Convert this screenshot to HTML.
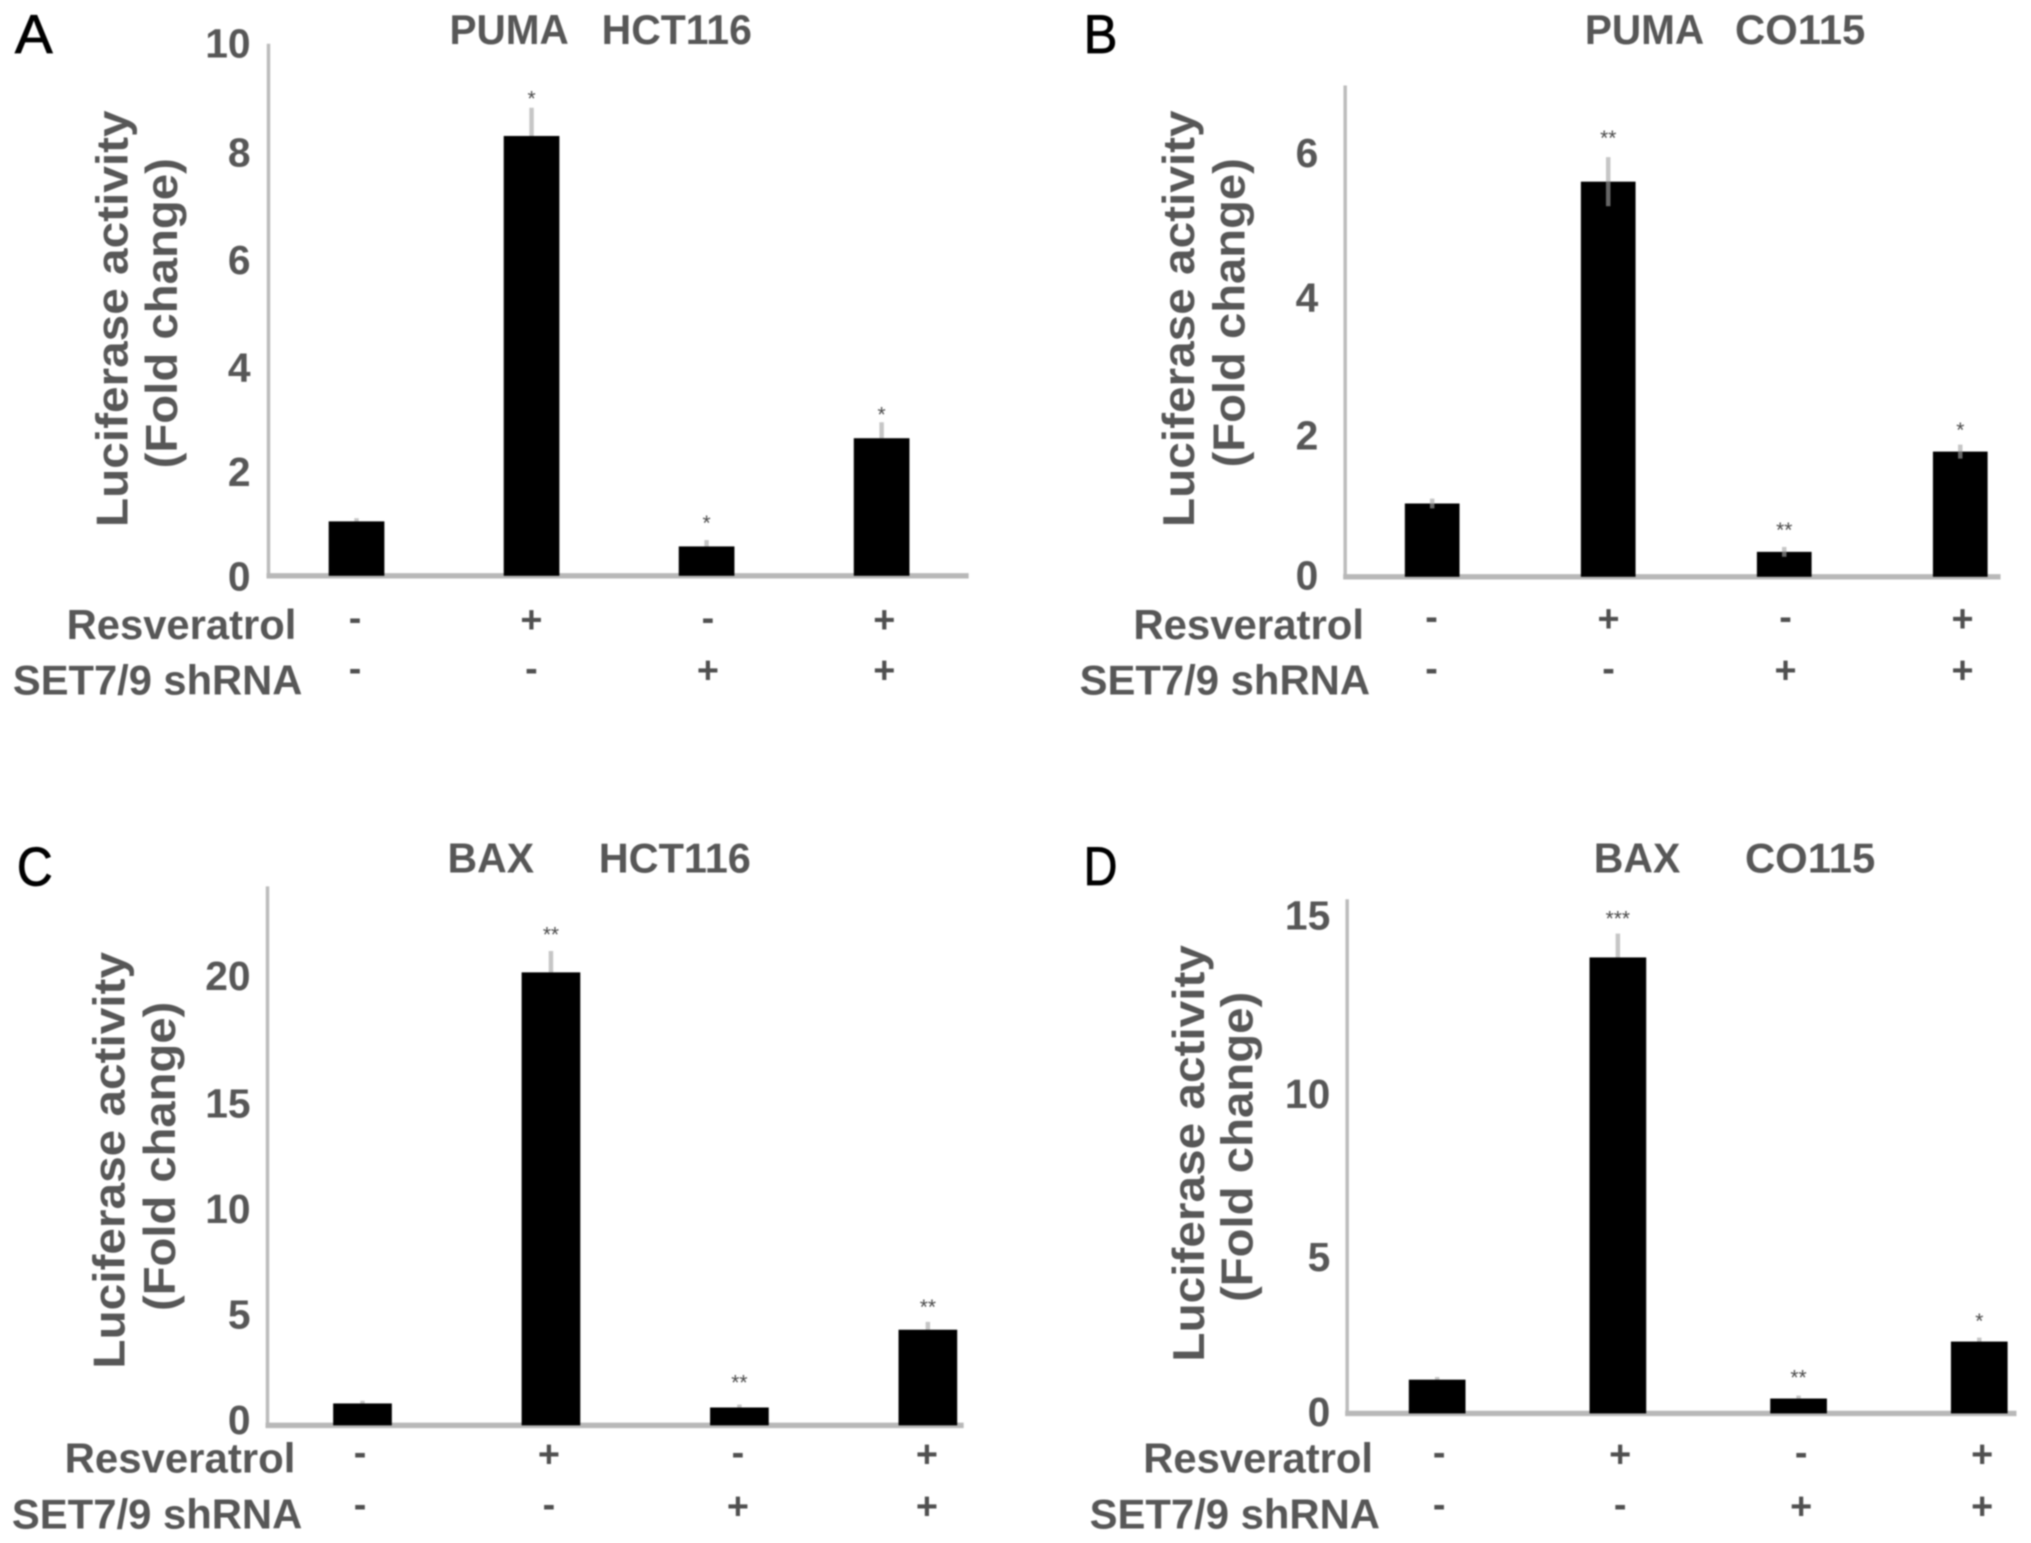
<!DOCTYPE html>
<html lang="en">
<head>
<meta charset="utf-8">
<title>Luciferase activity panels</title>
<style>
  html, body { margin: 0; padding: 0; background: #fff; }
  body { width: 2031px; height: 1543px; overflow: hidden; }
  svg { display: block; filter: blur(0.9px); }
  text { font-family: "Liberation Sans", sans-serif; font-weight: bold; fill: #575757; }
  .title { font-size: 42px; }
  .ytitle { font-size: 45px; }
  .rowlabel { font-size: 41.5px; }
  .letter { font-size: 55px; font-weight: normal; fill: #000; stroke: #000; stroke-width: 0.8px; }
  .tick { font-size: 41px; text-anchor: end; }
  .sign { font-size: 38px; text-anchor: middle; fill: #505050; }
  .star { font-size: 21px; text-anchor: middle; font-weight: normal; fill: #4a4a4a; }
</style>
</head>
<body>
<svg id="figure" xmlns="http://www.w3.org/2000/svg" width="2031" height="1543" viewBox="0 0 2031 1543">
  <rect width="2031" height="1543" fill="#fff"/>

  <g id="panel-a" transform="translate(0,0) scale(.9945) translate(0,0)">
    <text class="letter" x="15" y="53.5" textLength="38" lengthAdjust="spacingAndGlyphs">A</text>
    <text class="title" x="452" y="44" textLength="120" lengthAdjust="spacingAndGlyphs">PUMA</text>
    <text class="title" x="605" y="44" textLength="151" lengthAdjust="spacingAndGlyphs">HCT116</text>
    <text class="ytitle" transform="translate(128,530) rotate(-90)" textLength="419" lengthAdjust="spacingAndGlyphs">Luciferase activity</text>
    <text class="ytitle" transform="translate(178,471) rotate(-90)" textLength="312" lengthAdjust="spacingAndGlyphs">(Fold change)</text>
    <text class="rowlabel" x="67" y="642.5" textLength="231" lengthAdjust="spacingAndGlyphs">Resveratrol</text>
    <text class="rowlabel" x="13" y="698.5" textLength="291" lengthAdjust="spacingAndGlyphs">SET7/9 shRNA</text>
  </g>

  <g id="panel-b" transform="translate(1015,0) scale(.9945) translate(-1015,0)">
    <text class="letter" x="1084" y="53.5" textLength="34" lengthAdjust="spacingAndGlyphs">B</text>
    <text class="title" x="1588" y="44" textLength="120" lengthAdjust="spacingAndGlyphs">PUMA</text>
    <text class="title" x="1739" y="44" textLength="131" lengthAdjust="spacingAndGlyphs">CO115</text>
    <text class="ytitle" transform="translate(1195,530) rotate(-90)" textLength="419" lengthAdjust="spacingAndGlyphs">Luciferase activity</text>
    <text class="ytitle" transform="translate(1246,470) rotate(-90)" textLength="311" lengthAdjust="spacingAndGlyphs">(Fold change)</text>
    <text class="rowlabel" x="1134" y="642.5" textLength="232" lengthAdjust="spacingAndGlyphs">Resveratrol</text>
    <text class="rowlabel" x="1080" y="698.5" textLength="292" lengthAdjust="spacingAndGlyphs">SET7/9 shRNA</text>
  </g>

  <g id="panel-c" transform="translate(0,770) scale(.9945) translate(0,-770)">
    <text class="letter" x="17" y="886" textLength="36" lengthAdjust="spacingAndGlyphs">C</text>
    <text class="title" x="450" y="873" textLength="87" lengthAdjust="spacingAndGlyphs">BAX</text>
    <text class="title" x="602" y="873" textLength="153" lengthAdjust="spacingAndGlyphs">HCT116</text>
    <text class="ytitle" transform="translate(125,1372) rotate(-90)" textLength="419" lengthAdjust="spacingAndGlyphs">Luciferase activity</text>
    <text class="ytitle" transform="translate(176,1314) rotate(-90)" textLength="311" lengthAdjust="spacingAndGlyphs">(Fold change)</text>
    <text class="rowlabel" x="65" y="1476.5" textLength="232" lengthAdjust="spacingAndGlyphs">Resveratrol</text>
    <text class="rowlabel" x="12" y="1532.5" textLength="292" lengthAdjust="spacingAndGlyphs">SET7/9 shRNA</text>
  </g>

  <g id="panel-d" transform="translate(1015,770) scale(.9945) translate(-1015,-770)">
    <text class="letter" x="1084" y="885.5" textLength="34" lengthAdjust="spacingAndGlyphs">D</text>
    <text class="title" x="1597" y="873" textLength="87" lengthAdjust="spacingAndGlyphs">BAX</text>
    <text class="title" x="1749" y="873" textLength="131" lengthAdjust="spacingAndGlyphs">CO115</text>
    <text class="ytitle" transform="translate(1205,1365) rotate(-90)" textLength="419" lengthAdjust="spacingAndGlyphs">Luciferase activity</text>
    <text class="ytitle" transform="translate(1254,1305) rotate(-90)" textLength="312" lengthAdjust="spacingAndGlyphs">(Fold change)</text>
    <text class="rowlabel" x="1144" y="1476.5" textLength="231" lengthAdjust="spacingAndGlyphs">Resveratrol</text>
    <text class="rowlabel" x="1090" y="1532.5" textLength="292" lengthAdjust="spacingAndGlyphs">SET7/9 shRNA</text>
  </g>
</svg>

<script>
// Treatment rows shared by all panels
const resveratrolSigns = ['-', '+', '-', '+'];
const shrnaSigns = ['-', '-', '+', '+'];

// Panel A: PUMA, HCT116
const pumaHctValues = [1.04, 8.27, 0.57, 2.6];
const pumaHctErrors = [0.06, 0.53, 0.12, 0.3];
const pumaHctStars = ['', '*', '*', '*'];
const pumaHctStarLevels = [0, 9.07, 1.1, 3.14];
const pumaHctTicks = [0, 2, 4, 6, 8, 10];
const pumaHctTickLabels = ['0', '2', '4', '6', '8', '10'];

// Panel B: PUMA, CO115
const pumaCoValues = [1.06, 5.65, 0.37, 1.8];
const pumaCoErrors = [0.07, 0.35, 0.07, 0.1];
const pumaCoStars = ['', '**', '**', '*'];
const pumaCoStarLevels = [0, 6.34, 0.75, 2.18];
const pumaCoTicks = [0, 2, 4, 6];
const pumaCoTickLabels = ['0', '2', '4', '6'];

// Panel C: BAX, HCT116
const baxHctValues = [1.02, 20.2, 0.84, 4.3];
const baxHctErrors = [0.12, 0.95, 0.13, 0.35];
const baxHctStars = ['', '**', '**', '**'];
const baxHctStarLevels = [0, 22.1, 2.17, 5.53];
const baxHctTicks = [0, 5, 10, 15, 20];
const baxHctTickLabels = ['0', '5', '10', '15', '20'];

// Panel D: BAX, CO115
const baxCoValues = [1.05, 13.8, 0.48, 2.2];
const baxCoErrors = [0.08, 0.72, 0.09, 0.12];
const baxCoStars = ['', '***', '**', '*'];
const baxCoStarLevels = [0, 15.12, 1.26, 2.97];
const baxCoTicks = [0, 5, 10, 15];
const baxCoTickLabels = ['0', '5', '10', '15'];

const SVG_NS = 'http://www.w3.org/2000/svg';

function drawPanel(p) {
  const g = document.getElementById(p.id);
  const yScale = function (v) { return p.y0 - v * p.unit; };
  const xBand = function (i) { return p.x0 + i * p.step; };
  const signX = function (i) { return p.signX0 + i * p.signStep; };

  const yAxis = document.createElementNS(SVG_NS, 'line');
  yAxis.setAttribute('x1', p.axisX);
  yAxis.setAttribute('x2', p.axisX);
  yAxis.setAttribute('y1', p.axisTop);
  yAxis.setAttribute('y2', p.y0);
  yAxis.setAttribute('stroke', '#bcbcbc');
  yAxis.setAttribute('stroke-width', 3.5);
  
  
  g.appendChild(yAxis);

  const xAxis = document.createElementNS(SVG_NS, 'line');
  xAxis.setAttribute('x1', p.axisX - 2);
  xAxis.setAttribute('x2', p.axisEnd);
  xAxis.setAttribute('y1', p.y0 - 1);
  xAxis.setAttribute('y2', p.y0 - 1);
  xAxis.setAttribute('stroke', '#b8b8b8');
  xAxis.setAttribute('stroke-width', 5.5);
  
  
  g.appendChild(xAxis);

  p.ticks.forEach(function (t, i) {
    const label = document.createElementNS(SVG_NS, 'text');
    label.setAttribute('class', 'tick');
    label.setAttribute('x', p.tickRight);
    label.setAttribute('y', yScale(t) + p.tickNudges[i] + 13);
    label.textContent = p.tickLabels[i];
    
    
    g.appendChild(label);
  });

  p.values.forEach(function (v, i) {
    const cx = xBand(i);
    const top = yScale(v);

    const whisker = document.createElementNS(SVG_NS, 'line');
    whisker.setAttribute('x1', cx);
    whisker.setAttribute('x2', cx);
    whisker.setAttribute('y1', top);
    whisker.setAttribute('y2', yScale(v + p.errors[i]));
    whisker.setAttribute('stroke', '#c6c6c6');
    whisker.setAttribute('stroke-width', 4.5);
    
    
    g.appendChild(whisker);

    const bar = document.createElementNS(SVG_NS, 'rect');
    bar.setAttribute('x', cx - p.barWidth / 2);
    bar.setAttribute('y', top);
    bar.setAttribute('width', p.barWidth);
    bar.setAttribute('height', p.y0 - 1 - top);
    bar.setAttribute('fill', '#000');
    
    
    g.appendChild(bar);

    if (p.lowerError) {
      const lower = document.createElementNS(SVG_NS, 'line');
      lower.setAttribute('x1', cx);
      lower.setAttribute('x2', cx);
      lower.setAttribute('y1', top);
      lower.setAttribute('y2', yScale(v - p.errors[i]));
      lower.setAttribute('stroke', '#666');
      lower.setAttribute('stroke-width', 4.5);
      
      
      g.appendChild(lower);
    }

    if (p.stars[i]) {
      const star = document.createElementNS(SVG_NS, 'text');
      star.setAttribute('class', 'star');
      star.setAttribute('x', cx);
      star.setAttribute('y', yScale(p.starLevels[i]) + 12);
      star.textContent = p.stars[i];
      
      
      g.appendChild(star);
    }

    [[resveratrolSigns, p.row1, 'resveratrol'], [shrnaSigns, p.row2, 'shrna']].forEach(function (row) {
      const sign = document.createElementNS(SVG_NS, 'text');
      const ch = row[0][i];
      sign.setAttribute('class', 'sign');
      sign.setAttribute('x', signX(i));
      sign.setAttribute('y', row[1] + (ch === '+' ? 12 : 10));
      sign.textContent = ch;
      
      
      g.appendChild(sign);
    });
  });
}

drawPanel({
  id: 'panel-a', values: pumaHctValues, errors: pumaHctErrors, stars: pumaHctStars, starLevels: pumaHctStarLevels,
  ticks: pumaHctTicks, tickLabels: pumaHctTickLabels, tickNudges: [1, 3, 5, 4, 3, 1],
  x0: 358.5, step: 176, barWidth: 56, y0: 580, unit: 53.6,
  axisX: 270, axisTop: 44, axisEnd: 974, tickRight: 252,
  row1: 624, row2: 675, signX0: 357, signStep: 177.4
});
drawPanel({
  id: 'panel-b', values: pumaCoValues, errors: pumaCoErrors, stars: pumaCoStars, starLevels: pumaCoStarLevels,
  ticks: pumaCoTicks, tickLabels: pumaCoTickLabels, tickNudges: [-1, -1, 1, -3],
  x0: 1434.5, step: 177, barWidth: 55, y0: 581, unit: 70.5,
  axisX: 1347, axisTop: 86, axisEnd: 2006, tickRight: 1320,
  row1: 623, row2: 675, signX0: 1433.8, signStep: 178, lowerError: true
});
drawPanel({
  id: 'panel-c', values: baxHctValues, errors: baxHctErrors, stars: baxHctStars, starLevels: baxHctStarLevels,
  ticks: baxHctTicks, tickLabels: baxHctTickLabels, tickNudges: [-5.5, 1.5, 8.5, 15.5, 0],
  x0: 364.5, step: 189.5, barWidth: 59, y0: 1430, unit: 22.6,
  axisX: 269, axisTop: 887, axisEnd: 969, tickRight: 252,
  row1: 1459, row2: 1511, signX0: 362, signStep: 190
});
drawPanel({
  id: 'panel-d', values: baxCoValues, errors: baxCoErrors, stars: baxCoStars, starLevels: baxCoStarLevels,
  ticks: baxCoTicks, tickLabels: baxCoTickLabels, tickNudges: [-1.5, 9.5, 12, -1],
  x0: 1439.5, step: 181.7, barWidth: 57, y0: 1418, unit: 33.3,
  axisX: 1349, axisTop: 900, axisEnd: 2022, tickRight: 1332,
  row1: 1459, row2: 1511, signX0: 1441.5, signStep: 182
});
</script>
</body>
</html>
